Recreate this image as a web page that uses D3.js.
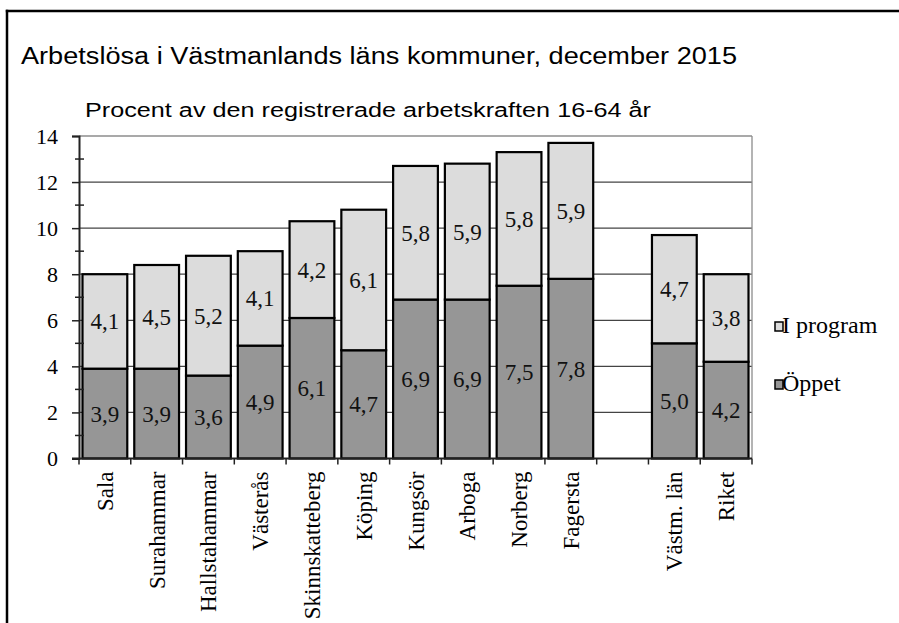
<!DOCTYPE html>
<html>
<head>
<meta charset="utf-8">
<script src="https://cdn.jsdelivr.net/npm/d3@7"></script>
<style>
  body { margin: 0; background: #fff; overflow: hidden; }
  svg { display: block; }
</style>
</head>
<body>
<div id="chart"></div>
<script>
// Data
var categories = ["Sala", "Surahammar", "Hallstahammar", "Västerås", "Skinnskatteberg",
  "Köping", "Kungsör", "Arboga", "Norberg", "Fagersta", "", "Västm. län", "Riket"];
var oppet = [3.9, 3.9, 3.6, 4.9, 6.1, 4.7, 6.9, 6.9, 7.5, 7.8, null, 5.0, 4.2];
var iProgram = [4.1, 4.5, 5.2, 4.1, 4.2, 6.1, 5.8, 5.9, 5.8, 5.9, null, 4.7, 3.8];
var yTicks = [0, 2, 4, 6, 8, 10, 12, 14];
var seriesNames = ["I program", "Öppet"];

function init() {
  var w = 899, h = 623;
  var plotLeft = 79, plotRight = 752, plotTop = 136, plotBottom = 458.5;
  var colOppet = "#969696", colProg = "#dcdcdc";
  var serif = "'Liberation Serif', 'Times New Roman', Times, serif";
  var sans = "'Liberation Sans', Arial, sans-serif";

  var svg = d3.select("#chart").append("svg")
    .attr("width", w)
    .attr("height", h);

  // outer frame: only top and left edges are inside the picture
  svg.append("line")
    .attr("x1", 5.8).attr("x2", w)
    .attr("y1", 11).attr("y2", 11)
    .attr("stroke", "#000").attr("stroke-width", 2.5);
  svg.append("line")
    .attr("x1", 7).attr("x2", 7)
    .attr("y1", 9.8).attr("y2", h)
    .attr("stroke", "#000").attr("stroke-width", 2.5);

  // titles
  svg.append("text")
    .attr("x", 21).attr("y", 64)
    .style("font-family", sans)
    .attr("font-size", 23)
    .attr("textLength", 716)
    .attr("lengthAdjust", "spacingAndGlyphs")
    .text("Arbetslösa i Västmanlands läns kommuner, december 2015");

  svg.append("text")
    .attr("x", 85).attr("y", 117)
    .style("font-family", sans)
    .attr("font-size", 20)
    .attr("textLength", 566)
    .attr("lengthAdjust", "spacingAndGlyphs")
    .text("Procent av den registrerade arbetskraften 16-64 år");

  // scales
  var keys = categories.map(function(c, i) { return i; });
  var xScale = d3.scaleBand()
    .domain(keys)
    .range([plotLeft, plotRight])
    .paddingInner(0.135)
    .paddingOuter(0.0675);
  var step = xScale.step();

  var yScale = d3.scaleLinear()
    .domain([0, 14])
    .range([plotBottom, plotTop]);

  // gridlines
  svg.append("g").selectAll("line")
    .data(yTicks.slice(1))
    .enter().append("line")
    .attr("x1", plotLeft).attr("x2", plotRight)
    .attr("y1", function(d) { return yScale(d); })
    .attr("y2", function(d) { return yScale(d); })
    .attr("stroke", function(d) { return d === 14 ? "#8c8c8c" : "#444"; })
    .attr("stroke-width", 1.3);

  // right border of plot area
  svg.append("line")
    .attr("x1", plotRight).attr("x2", plotRight)
    .attr("y1", plotTop).attr("y2", plotBottom)
    .attr("stroke", "#8c8c8c")
    .attr("stroke-width", 1.3);

  // bars
  var bars = svg.append("g");
  keys.forEach(function(i) {
    if (oppet[i] == null) return;
    var x = xScale(i);
    var segs = [
      { y0: 0, y1: oppet[i], v: oppet[i], fill: colOppet },
      { y0: oppet[i], y1: oppet[i] + iProgram[i], v: iProgram[i], fill: colProg }
    ];
    segs.forEach(function(s) {
      bars.append("rect")
        .attr("x", x)
        .attr("y", yScale(s.y1))
        .attr("width", xScale.bandwidth())
        .attr("height", yScale(s.y0) - yScale(s.y1))
        .attr("fill", s.fill)
        .attr("stroke", "#000")
        .attr("stroke-width", 2.2);
      bars.append("text")
        .attr("x", x + xScale.bandwidth() / 2)
        .attr("y", yScale((s.y0 + s.y1) / 2))
        .attr("dy", "0.35em")
        .attr("text-anchor", "middle")
        .style("font-family", serif)
        .attr("font-size", 23)
        .attr("fill", "#111")
        .text(d3.format(".1f")(s.v).replace(".", ","));
    });
  });

  // y axis
  var yAxis = d3.axisLeft(yScale)
    .tickValues(yTicks)
    .tickSize(7)
    .tickPadding(14)
    .tickFormat(d3.format("d"));
  var gy = svg.append("g")
    .attr("transform", "translate(" + plotLeft + ",0)")
    .call(yAxis);
  gy.select(".domain").attr("stroke", "#222").attr("stroke-width", 2);
  gy.selectAll(".tick line").attr("stroke", "#222").attr("stroke-width", 1.5);
  gy.selectAll("text")
    .style("font-family", serif)
    .attr("font-size", 22)
    .attr("fill", "#000");

  // minor ticks crossing the axis
  svg.append("g").selectAll("line")
    .data(d3.range(1, 14, 2))
    .enter().append("line")
    .attr("x1", plotLeft - 4).attr("x2", plotLeft + 5)
    .attr("y1", function(d) { return yScale(d); })
    .attr("y2", function(d) { return yScale(d); })
    .attr("stroke", "#222")
    .attr("stroke-width", 1.5);

  // x axis line and boundary ticks
  svg.append("line")
    .attr("x1", plotLeft - 7).attr("x2", plotRight)
    .attr("y1", plotBottom).attr("y2", plotBottom)
    .attr("stroke", "#222").attr("stroke-width", 2);
  svg.append("g").selectAll("line")
    .data(d3.range(categories.length + 1))
    .enter().append("line")
    .attr("x1", function(d) { return plotLeft + d * step; })
    .attr("x2", function(d) { return plotLeft + d * step; })
    .attr("y1", plotBottom).attr("y2", plotBottom + 6)
    .attr("stroke", "#222").attr("stroke-width", 1.5);

  // x labels, rotated
  svg.append("g").selectAll("text")
    .data(keys)
    .enter().append("text")
    .attr("transform", function(i) {
      return "translate(" + (xScale(i) + xScale.bandwidth() / 2) + "," + (plotBottom + 13) + ") rotate(-90)";
    })
    .attr("dy", "0.35em")
    .attr("text-anchor", "end")
    .style("font-family", serif)
    .attr("font-size", 23)
    .text(function(i) { return categories[i]; });

  // legend
  var legendColors = [colProg, colOppet];
  var legend = svg.append("g").selectAll("g")
    .data(seriesNames)
    .enter().append("g")
    .attr("transform", function(d, i) { return "translate(775," + (322 + i * 58) + ")"; });
  legend.append("rect")
    .attr("width", 8).attr("height", 9)
    .attr("fill", function(d, i) { return legendColors[i]; })
    .attr("stroke", "#000")
    .attr("stroke-width", 1.5);
  legend.append("text")
    .attr("x", 7).attr("y", 11)
    .style("font-family", serif)
    .attr("font-size", 24)
    .text(function(d) { return d; });
}

window.onload = init;
</script>
</body>
</html>
